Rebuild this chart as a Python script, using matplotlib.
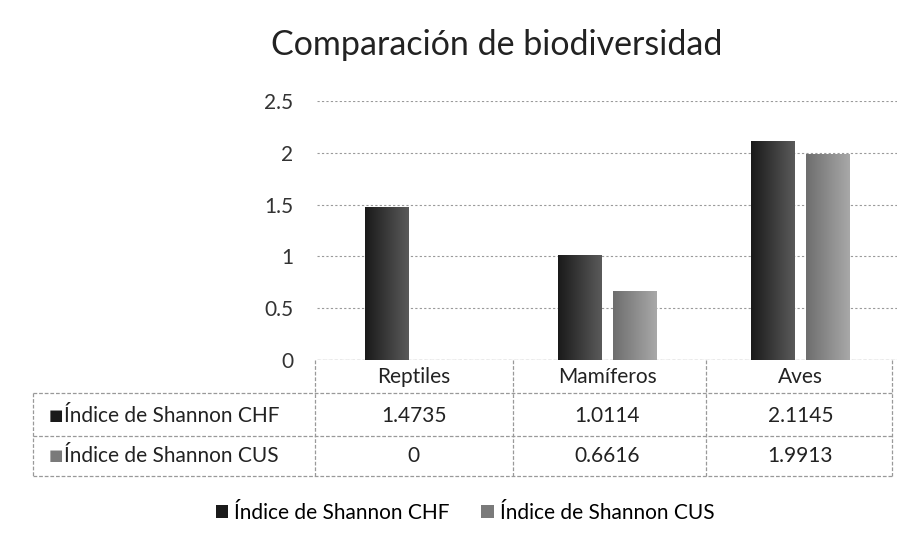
import matplotlib.pyplot as plt
import numpy as np
from matplotlib.patches import Patch
from matplotlib.colors import LinearSegmentedColormap
from matplotlib.transforms import blended_transform_factory

plt.rcParams['font.family'] = ['Lato', 'DejaVu Sans']

# data
categories = ['Reptiles', 'Mamíferos', 'Aves']
series_names = ['Índice de Shannon CHF', 'Índice de Shannon CUS']
chf = [1.4735, 1.0114, 2.1145]
cus = [0, 0.6616, 1.9913]
chf_labels = ['1.4735', '1.0114', '2.1145']
cus_labels = ['0', '0.6616', '1.9913']
yticks = [0, 0.5, 1, 1.5, 2, 2.5]
ytick_labels = ['0', '0.5', '1', '1.5', '2', '2.5']

W, H = 914, 545
fig = plt.figure(figsize=(W / 100, H / 100), dpi=100)
fig.patch.set_facecolor('white')


def fx(x):
    return x / W


def fy(y):
    return 1 - y / H


ax = fig.add_axes([fx(317), fy(360), fx(897 - 317), (360 - 101) / H])

x = np.arange(len(categories))
bw = 0.223
off = 0.1425


def gradient_bars(bars, c_left, c_right):
    # horizontal shading across each bar, like the scanned Excel bars
    grad = np.linspace(0, 1, 64).reshape(1, -1)
    cmap = LinearSegmentedColormap.from_list('g', [c_left, c_right])
    for b in bars:
        if b.get_height() <= 0:
            continue
        x0, y0 = b.get_x(), b.get_y()
        im = ax.imshow(grad, cmap=cmap, aspect='auto', zorder=3,
                       extent=[x0, x0 + b.get_width(), y0, y0 + b.get_height()])
        im.set_clip_path(b)


b1 = ax.bar(x - off, chf, bw, color='#262626', zorder=2)
b2 = ax.bar(x + off, cus, bw, color='#8c8c8c', zorder=2)
gradient_bars(b1, '#1a1a1a', '#5a5a5a')
gradient_bars(b2, '#6e6e6e', '#a8a8a8')
ax.set_xlim(-0.5, 2.5)
ax.set_ylim(0, 2.5)

ax.set_yticks(yticks)
ax.set_yticklabels(ytick_labels, fontsize=15, color='#333333')
ax.set_xticks([])
ax.tick_params(axis='y', length=0, pad=17)
for s in ax.spines.values():
    s.set_visible(False)
ax.yaxis.grid(True, color='#9a9a9a', linestyle=(0, (2, 2)), linewidth=0.8)
ax.set_axisbelow(True)
ax.axhline(0, color='#888888', linewidth=0.9, linestyle=(0, (3, 1.5)), zorder=1)

fig.text(fx(497), fy(45), 'Comparación de biodiversidad', ha='center', va='center',
         fontsize=24.5, color='#222222')

# data table under the axis
line_kw = dict(color='#999999', linewidth=0.9, linestyle=(0, (3, 1.5)),
               transform=fig.transFigure)
col_edges = [315, 513, 706, 892]
for yy in [393, 436, 476]:
    fig.add_artist(plt.Line2D([fx(33), fx(892)], [fy(yy), fy(yy)], **line_kw))
fig.add_artist(plt.Line2D([fx(33), fx(33)], [fy(393), fy(476)], **line_kw))
for xe in col_edges:
    fig.add_artist(plt.Line2D([fx(xe), fx(xe)], [fy(360), fy(476)], **line_kw))

tr = blended_transform_factory(ax.transData, fig.transFigure)
for i, c in enumerate(categories):
    fig.text(x[i], fy(377), c, transform=tr, ha='center', va='center', fontsize=15, color='#222222')
    fig.text(x[i], fy(416), chf_labels[i], transform=tr, ha='center', va='center', fontsize=15, color='#222222')
    fig.text(x[i], fy(456), cus_labels[i], transform=tr, ha='center', va='center', fontsize=15, color='#222222')

for yy, name, col in [(416, series_names[0], '#1a1a1a'), (456, series_names[1], '#7a7a7a')]:
    fig.text(fx(49), fy(yy), '■', ha='left', va='center', fontsize=11, color=col,
             family=['DejaVu Sans'])
    fig.text(fx(64), fy(yy), name, ha='left', va='center', fontsize=15, color='#222222')

handles = [Patch(facecolor='#1a1a1a'), Patch(facecolor='#7a7a7a')]
fig.legend(handles, series_names, loc='center', bbox_to_anchor=(fx(465), fy(513)),
           ncol=2, frameon=False, fontsize=15, handlelength=0.6, handleheight=0.6,
           handletextpad=0.3, columnspacing=1.5)

fig.savefig('out.png', dpi=100)
